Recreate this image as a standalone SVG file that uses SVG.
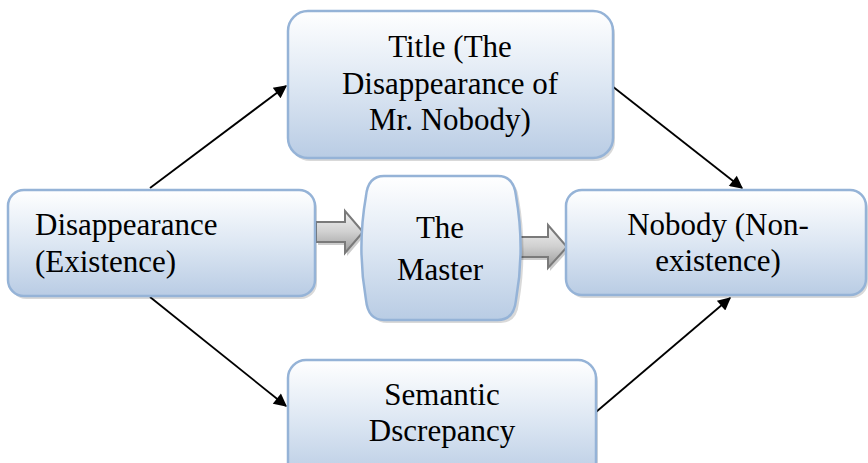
<svg xmlns="http://www.w3.org/2000/svg" width="868" height="463" viewBox="0 0 868 463">
<defs>
<linearGradient id="bg" x1="0" y1="0" x2="0" y2="1">
<stop offset="0" stop-color="#ffffff"/>
<stop offset="0.5" stop-color="#dde7f3"/>
<stop offset="1" stop-color="#b9cce4"/>
</linearGradient>
<linearGradient id="gg" x1="0" y1="0" x2="0" y2="1">
<stop offset="0" stop-color="#f2f2f2"/>
<stop offset="0.5" stop-color="#d0d0d0"/>
<stop offset="1" stop-color="#9a9a9a"/>
</linearGradient>
<marker id="ah" viewBox="0 0 10 10" refX="9" refY="5" markerWidth="15" markerHeight="13" markerUnits="userSpaceOnUse" orient="auto">
<path d="M0,0 L10,5 L0,10 Z" fill="#000"/>
</marker>
</defs>
<g id="connectors" stroke="#000" stroke-width="1.8" fill="none">
<line x1="150" y1="188" x2="286" y2="86" marker-end="url(#ah)"/>
<line x1="612" y1="86" x2="742" y2="188" marker-end="url(#ah)"/>
<line x1="150" y1="297" x2="286" y2="406" marker-end="url(#ah)"/>
<line x1="596" y1="412" x2="730" y2="298" marker-end="url(#ah)"/>
<path d="M318,225 L347,225 L347,214 L365,235 L347,256 L347,245 L318,245 Z" fill="#000" fill-opacity="0.2" stroke="none"/>
<path d="M520,240 L550,240 L550,228 L569,250 L550,271 L550,260 L520,260 Z" fill="#000" fill-opacity="0.2" stroke="none"/>
<path d="M316,222 L345,222 L345,211 L363,232 L345,253 L345,242 L316,242 Z" fill="url(#gg)" stroke="#7a7a7a" stroke-width="2"/>
<path d="M518,237 L548,237 L548,225 L567,247 L548,268 L548,257 L518,257 Z" fill="url(#gg)" stroke="#7a7a7a" stroke-width="2"/>
</g>
<g id="disappearance">
<rect fill="#000" fill-opacity="0.15" x="10" y="193" width="307" height="106" rx="16"/>
<rect fill="url(#bg)" stroke="#95b3d7" stroke-width="2.5" x="8" y="190" width="307" height="106" rx="16"/>
<text x="35" y="235" font-family="Liberation Serif" font-size="31">Disappearance</text>
<text x="35" y="272" font-family="Liberation Serif" font-size="31">(Existence)</text>
</g>
<g id="title">
<rect fill="#000" fill-opacity="0.15" x="290" y="14" width="325" height="147" rx="20"/>
<rect fill="url(#bg)" stroke="#95b3d7" stroke-width="2.5" x="288" y="11" width="325" height="147" rx="20"/>
<text text-anchor="middle" x="450" y="57" font-family="Liberation Serif" font-size="31">Title (The</text>
<text text-anchor="middle" x="450" y="94" font-family="Liberation Serif" font-size="31">Disappearance of</text>
<text text-anchor="middle" x="450" y="130" font-family="Liberation Serif" font-size="31">Mr. Nobody)</text>
</g>
<g id="master">
<path fill="#000" fill-opacity="0.15" d="M387,179 L501,179 Q517,179 519,199 C525,233 525,269 519,303 Q517,323 501,323 L387,323 Q371,323 369,303 C363,269 363,233 369,199 Q371,179 387,179 Z"/>
<path fill="url(#bg)" stroke="#95b3d7" stroke-width="2.5" d="M384,176 L498,176 Q514,176 516,196 C522,230 522,266 516,300 Q514,320 498,320 L384,320 Q368,320 366,300 C360,266 360,230 366,196 Q368,176 384,176 Z"/>
<text text-anchor="middle" x="440" y="238" font-family="Liberation Serif" font-size="31">The</text>
<text text-anchor="middle" x="440" y="280" font-family="Liberation Serif" font-size="31">Master</text>
</g>
<g id="nobody">
<rect fill="#000" fill-opacity="0.15" x="568" y="193" width="300" height="105" rx="16"/>
<rect fill="url(#bg)" stroke="#95b3d7" stroke-width="2.5" x="566" y="190" width="300" height="105" rx="16"/>
<text text-anchor="middle" x="718" y="235" font-family="Liberation Serif" font-size="31">Nobody (Non-</text>
<text text-anchor="middle" x="718" y="271" font-family="Liberation Serif" font-size="31">existence)</text>
</g>
<g id="semantic">
<rect fill="#000" fill-opacity="0.15" x="290" y="363" width="308" height="120" rx="18"/>
<rect fill="url(#bg)" stroke="#95b3d7" stroke-width="2.5" x="288" y="360" width="308" height="120" rx="18"/>
<text text-anchor="middle" x="442" y="405" font-family="Liberation Serif" font-size="31">Semantic</text>
<text text-anchor="middle" x="442" y="441" font-family="Liberation Serif" font-size="31">Dscrepancy</text>
</g>
</svg>
